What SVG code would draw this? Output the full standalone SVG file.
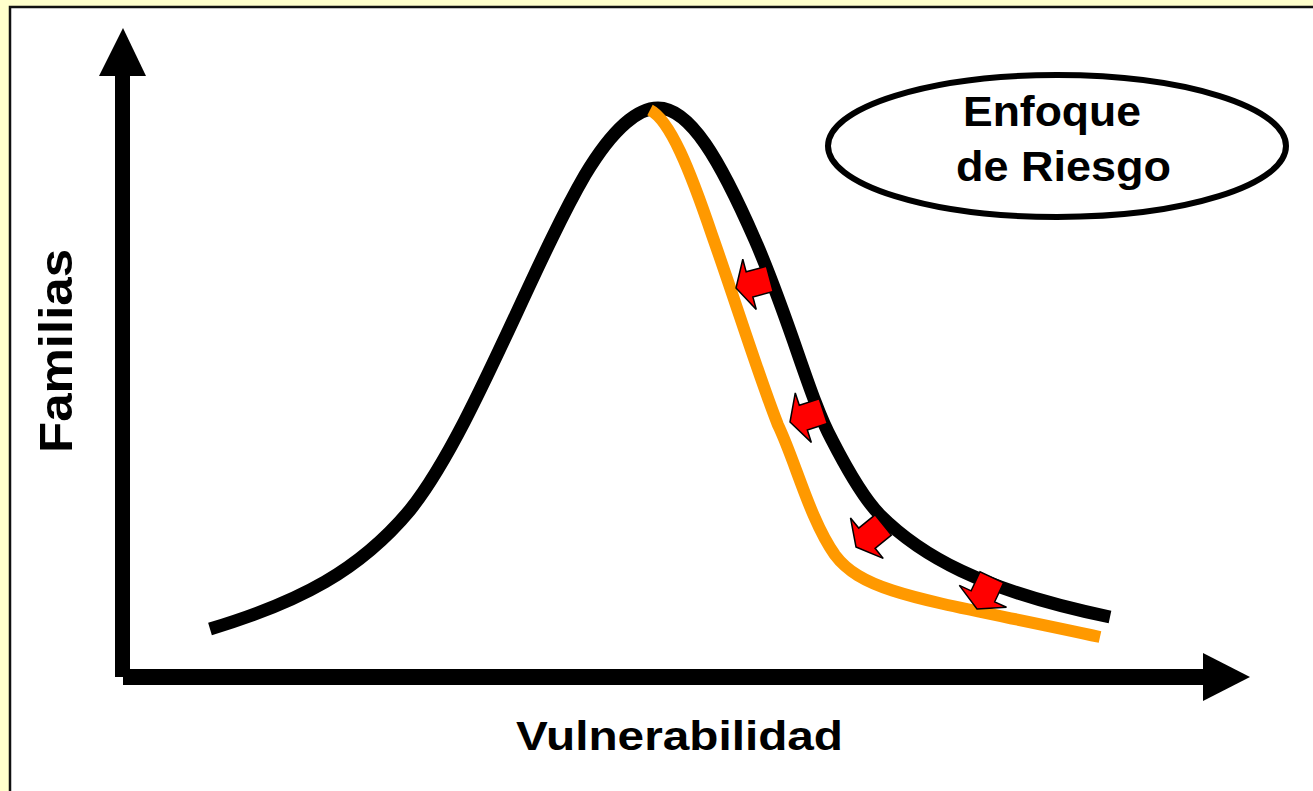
<svg xmlns="http://www.w3.org/2000/svg" width="1313" height="791" viewBox="0 0 1313 791">
  <defs>
    <style>
      .lbl { font-family: "Liberation Sans", Arial, sans-serif; font-weight: bold; fill: #000; }
      .curve { fill: none; stroke-linecap: butt; stroke-linejoin: round; }
      .arrow { fill: #FF0000; stroke: #000; stroke-width: 1.5; stroke-linejoin: miter; }
      .axis { fill: #000; }
    </style>
    <polygon id="blockArrow" class="arrow" points="0,0 -14,-26 -14,-13 -35,-13 -35,13 -14,13 -14,26"/>
  </defs>
  <rect x="0" y="0" width="1313" height="791" fill="#FFFFCC"/>
  <rect x="10" y="7" width="1310" height="800" fill="#FFFFFF" stroke="#111" stroke-width="2.5"/>

  <g id="axes">
    <g id="y-axis">
      <rect class="axis" x="115" y="74" width="15" height="603"/>
      <polygon class="axis" points="123,28 99,76 146,76"/>
    </g>
    <g id="x-axis">
      <rect class="axis" x="123" y="669" width="1082" height="16"/>
      <polygon class="axis" points="1203,653 1250,677 1203,701"/>
    </g>
  </g>

  <g id="connectors">
    <path id="black-curve" class="curve" stroke="#000" stroke-width="13" d="M210,629 C300,602 360,570 410,510 C470,435 530,270 585,175 C615,125 640,108 658,108 C690,108 720,160 755,240 C790,320 810,400 832,440 C850,475 865,500 880,515 C920,555 980,590 1110,617"/>
    <path id="orange-curve" class="curve" stroke="#FF9900" stroke-width="12" d="M650,110 C670,120 690,170 712,235 C735,300 760,380 778,425 C795,460 810,520 835,555 C865,595 930,600 1100,637"/>
    <g id="shift-arrows">
      <use href="#blockArrow" transform="translate(736,288) rotate(165)"/>
      <use href="#blockArrow" transform="translate(790,422) rotate(162)"/>
      <use href="#blockArrow" transform="translate(856,547) rotate(141)"/>
      <use href="#blockArrow" transform="translate(977,609) rotate(115)"/>
    </g>
  </g>

  <g id="node-enfoque">
    <ellipse cx="1057" cy="146" rx="229" ry="71" fill="#FFFFFF" stroke="#000" stroke-width="6"/>
    <text class="lbl" x="963" y="126" font-size="43" textLength="178" lengthAdjust="spacingAndGlyphs">Enfoque</text>
    <text class="lbl" x="956" y="181" font-size="43" textLength="215" lengthAdjust="spacingAndGlyphs">de Riesgo</text>
  </g>

  <g id="label-x">
    <text class="lbl" x="516" y="750" font-size="41" textLength="327" lengthAdjust="spacingAndGlyphs">Vulnerabilidad</text>
  </g>
  <g id="label-y">
    <text class="lbl" transform="translate(72,453) rotate(-90)" x="0" y="0" font-size="46" textLength="204" lengthAdjust="spacingAndGlyphs">Familias</text>
  </g>
</svg>
